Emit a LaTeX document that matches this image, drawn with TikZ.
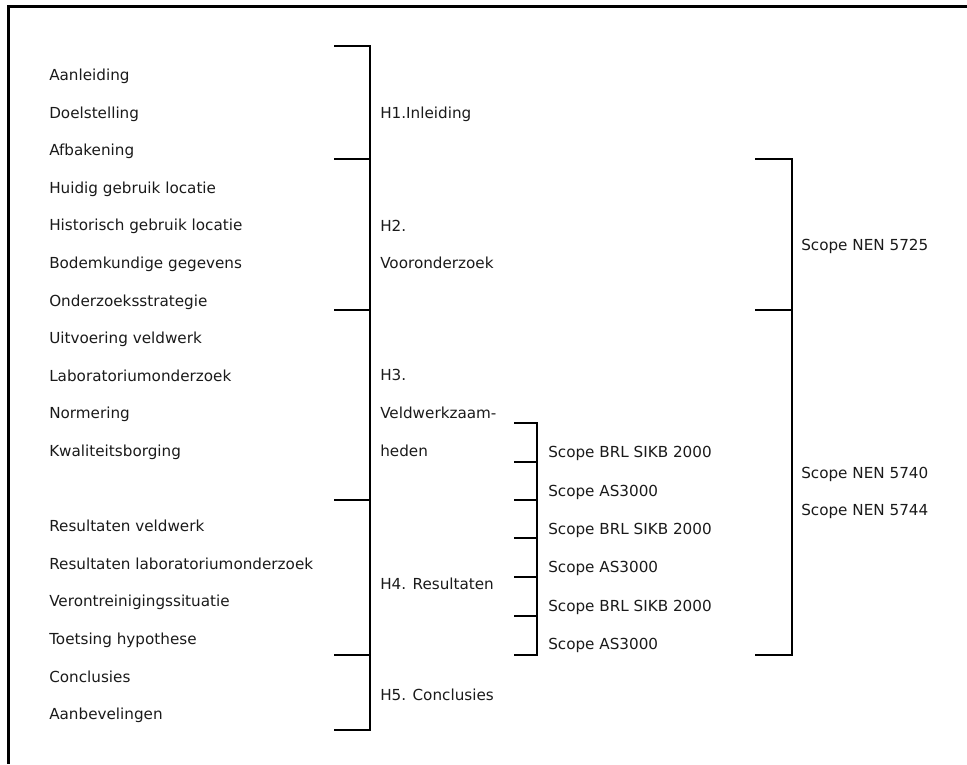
\documentclass[tikz,border=0pt]{standalone}
\usepackage{fontspec}
\setmainfont{DejaVu Sans}
\usepackage{tikz}
\definecolor{inkline}{HTML}{000000}
\definecolor{inktext}{HTML}{1A1A1A}
\tikzset{
  frame/.style={draw=inkline, line width=1.9pt},
  brace/.style={draw=inkline, line width=1.5pt},
  lbl/.style={font=\fontsize{11.4}{13}\selectfont, text=inktext, anchor=base west, inner sep=0pt},
}
\def\rowA{75}
\def\rowH{37.6}

\begin{document}
\begin{tikzpicture}[x=0.75pt, y=-0.75pt]

  \useasboundingbox (0,0) rectangle (967,764);
  \draw[frame] (967,6.5) -- (8.5,6.5) -- (8.5,764);

  % left column
  \foreach \r/\t in {0/Aanleiding, 1/Doelstelling, 2/Afbakening,
      3/Huidig gebruik locatie, 4/Historisch gebruik locatie,
      5/Bodemkundige gegevens, 6/Onderzoeksstrategie,
      7/Uitvoering veldwerk, 8/Laboratoriumonderzoek, 9/Normering,
      10/Kwaliteitsborging, 12/Resultaten veldwerk,
      13/Resultaten laboratoriumonderzoek, 14/Verontreinigingssituatie,
      15/Toetsing hypothese, 16/Conclusies, 17/Aanbevelingen}
    \node[lbl] (item\r) at (49, \rowA+\r*\rowH+5.5) {\t};

  % chapters
  \draw[brace] (334,46) -- (370,46) -- (370,730) -- (334,730);
  \foreach \y in {159,310,500,655}
    \draw[brace] (334,\y) -- (370,\y);

  \node[lbl] (h1) at (380,118.5) {H1.Inleiding};
  \node[lbl] (h2a) at (380,231.5) {H2.};
  \node[lbl] (h2b) at (380,268.5) {Vooronderzoek};
  \node[lbl] (h3a) at (380,380.5) {H3.};
  \node[lbl] (h3b) at (380,418.5) {Veldwerkzaam-};
  \node[lbl] (h3c) at (380,456.5) {heden};
  \node[lbl] (h4) at (380,589.5) {H4. Resultaten};
  \node[lbl] (h5) at (380,700.5) {H5. Conclusies};

  % scopes per paragraph
  \draw[brace] (514,423) -- (537,423) -- (537,655) -- (514,655);
  \foreach \y in {462,500,538,577,616}
    \draw[brace] (514,\y) -- (537,\y);

  \foreach \y/\t [count=\i] in {452/Scope BRL SIKB 2000, 491/Scope AS3000,
      529/Scope BRL SIKB 2000, 567/Scope AS3000,
      606/Scope BRL SIKB 2000, 644/Scope AS3000}
    \node[lbl] (sc\i) at (548,\y+5.5) {\t};

  % NEN scopes
  \draw[brace] (755,159) -- (792,159) -- (792,655) -- (755,655);
  \draw[brace] (755,310) -- (792,310);

  \node[lbl] (nen1) at (801,250.5) {Scope NEN 5725};
  \node[lbl] (nen2) at (801,478.5) {Scope NEN 5740};
  \node[lbl] (nen3) at (801,515.5) {Scope NEN 5744};

\end{tikzpicture}
\end{document}
